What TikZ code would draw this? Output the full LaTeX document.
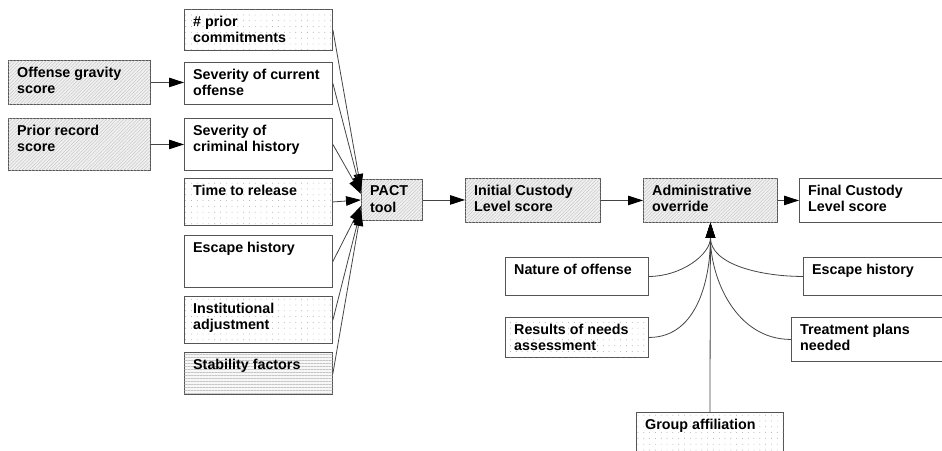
\documentclass[tikz,border=0pt]{standalone}
\usepackage{fontspec}
\setmainfont{Liberation Sans}
\usetikzlibrary{arrows.meta,patterns.meta}
\definecolor{bord}{HTML}{555555}
\definecolor{conn}{HTML}{444444}
\tikzset{
  box/.style={draw=bord,line width=0.9pt,rectangle,inner sep=0pt,anchor=north west,fill=white},
  plainbox/.style={},
  dotbox/.style={postaction={pattern={Dots[distance=5.8pt,radius=0.45pt]},pattern color=gray!75}},
  hatchbox/.style={fill=gray!12,postaction={pattern={Lines[angle=45,distance=2.4pt,line width=0.35pt]},pattern color=gray!50}},
  linebox/.style={fill=gray!6,postaction={pattern={Lines[angle=0,distance=3pt,line width=0.4pt]},pattern color=gray!45}},
  txt/.style={anchor=north west,inner sep=0pt,align=left,font=\fontsize{14.3}{16.8}\selectfont\bfseries},
  conn/.style={draw=conn,line width=0.8pt},
  arr/.style={conn,-{Triangle[length=15pt,width=9.5pt,color=black]}}
}
\newcommand{\bx}[7]{%
  \node[box,#6,minimum width=#4pt,minimum height=#5pt] (#1) at (#2,#3) {};
  \node[txt] (#1t) at ([xshift=9pt,yshift=-6.5pt]#1.north west) {#7};}
\begin{document}
\begin{tikzpicture}[x=1pt,y=-1pt]
\useasboundingbox (0,0) rectangle (942,450);
\clip (0,0) rectangle (942,450);
\bx{prior}{184}{9}{148}{41}{dotbox}{\# prior\\commitments}
\bx{ogs}{8}{60}{142}{44}{hatchbox}{Offense gravity\\score}
\bx{sevcur}{184}{62}{148}{42}{plainbox}{Severity of current\\offense}
\bx{prs}{8}{118}{142}{52}{hatchbox}{Prior record\\score}
\bx{sevcrim}{184}{118}{148}{52}{plainbox}{Severity of\\criminal history}
\bx{ttr}{184}{178}{148}{47}{dotbox}{Time to release}
\bx{esc}{184}{235}{148}{52}{plainbox}{Escape history}
\bx{inst}{184}{296}{148}{47}{dotbox}{Institutional\\adjustment}
\bx{stab}{184}{352}{148}{42}{linebox}{Stability factors}
\bx{pact}{361}{179}{61}{41}{hatchbox}{PACT\\tool}
\bx{icl}{465}{178}{135}{44}{hatchbox}{Initial Custody\\Level score}
\bx{adm}{643}{178}{134}{44}{hatchbox}{Administrative\\override}
\bx{fcl}{799}{178}{160}{44}{plainbox}{Final Custody\\Level score}
\bx{nat}{505}{257}{143}{38}{plainbox}{Nature of offense}
\bx{esctwo}{803}{257}{160}{38}{plainbox}{Escape history}
\bx{rna}{505}{317}{143}{40}{dotbox}{Results of needs\\assessment}
\bx{tpn}{791}{317}{170}{44}{plainbox}{Treatment plans\\needed}
\bx{grp}{636}{412}{147}{60}{dotbox}{Group affiliation}
% left column
\draw[arr] (ogs.east) -- (ogs.east -| sevcur.west);
\draw[arr] (prs.east) -- (prs.east -| sevcrim.west);
\draw[arr] (prior.east) -- ([yshift=11pt]pact.west);
\draw[arr] (sevcur.east) -- ([yshift=8pt]pact.west);
\draw[arr] (sevcrim.east) -- ([yshift=6pt]pact.west);
\draw[arr] (ttr.east) -- (pact.west);
\draw[arr] (esc.east) -- ([yshift=-6pt]pact.west);
\draw[arr] (inst.east) -- ([yshift=-9pt]pact.west);
\draw[arr] (stab.east) -- ([yshift=-11pt]pact.west);
% main chain
\draw[arr] (pact.east) -- (pact.east -| icl.west);
\draw[arr] (icl.east) -- (icl.east -| adm.west);
\draw[arr] (adm.east) -- (adm.east -| fcl.west);
% override inputs
\draw[arr] (nat.east) to[out=0,in=-90] (adm.south);
\draw[arr] (rna.east) to[out=0,in=-90] (adm.south);
\draw[arr] (esctwo.west) to[out=180,in=-90] (adm.south);
\draw[arr] (tpn.west) to[out=180,in=-90] (adm.south);
\draw[arr] (grp.north) -- (adm.south);
\end{tikzpicture}
\end{document}
